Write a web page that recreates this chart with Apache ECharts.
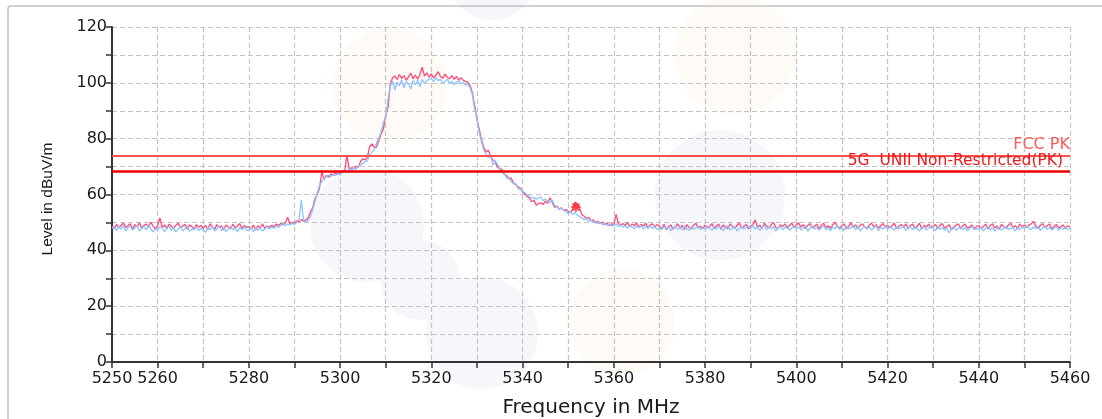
<!DOCTYPE html>
<html>
<head>
<meta charset="utf-8">
<script src="https://cdn.jsdelivr.net/npm/echarts@6/dist/echarts.min.js"></script>
<style>
html,body{margin:0;padding:0;background:#fff;}
#chart{width:1102px;height:419px;}
</style>
</head>
<body>
<div id="chart"></div>
<script>
// ---- data ----
const FREQ_START = 5250;   // MHz, first sample
const FREQ_STEP = 0.5;     // MHz between samples

// trace 1 (red/pink), dBuV/m, one value per 0.5 MHz from 5250 to 5460
const LEVEL_RED = [
  48.6,47.8,49.3,48.1,49.0,49.8,48.2,48.8,49.5,47.6,49.2,48.4,49.9,47.9,48.9,49.4,48.3,50.1,48.7,47.7,
  48.8,51.6,48.3,49.1,47.8,49.4,48.6,47.9,49.0,49.7,48.1,48.7,49.3,47.6,49.1,48.5,47.5,49.2,48.3,48.9,
  47.9,49.0,47.4,49.5,48.5,47.6,49.2,48.2,48.8,47.3,49.1,48.4,47.7,49.4,48.0,48.7,49.6,47.8,48.9,48.2,
  48.5,47.6,49.1,47.3,48.8,48.0,49.5,47.8,48.7,48.3,49.0,48.4,49.4,48.9,49.6,49.1,49.8,51.9,49.5,50.0,
  49.8,50.6,50.2,51.0,50.4,50.9,51.6,53.8,55.2,58.6,60.0,62.4,68.2,65.4,66.8,66.2,67.4,66.9,67.8,67.3,
  67.8,68.6,68.2,74.0,68.9,69.6,69.2,70.1,69.8,71.9,72.8,72.4,73.5,77.2,78.1,76.8,77.0,79.4,81.8,83.5,
  88.5,91.2,99.6,101.8,102.4,101.2,103.0,101.6,102.6,100.9,102.2,103.4,101.5,102.8,101.3,103.1,105.6,102.4,103.6,102.0,
  103.2,101.8,102.7,104.0,102.3,101.6,103.1,102.0,101.4,102.6,101.2,102.3,101.0,101.8,100.9,100.5,100.2,99.1,96.4,91.8,
  86.8,83.4,79.6,76.8,75.2,75.9,73.6,72.4,71.6,69.8,69.3,68.9,67.2,66.8,65.6,65.9,64.2,63.5,62.8,62.3,
  60.8,60.2,59.4,58.6,57.4,57.9,56.2,56.8,57.0,56.4,57.6,56.9,58.8,57.2,55.4,55.9,54.8,55.2,54.3,54.6,
  54.0,53.5,54.8,57.2,56.4,55.0,52.8,52.2,51.4,51.8,50.6,50.9,49.8,50.4,49.6,50.1,49.2,49.8,48.9,49.5,
  49.3,52.9,49.7,48.8,49.6,48.9,49.9,48.5,49.4,48.8,49.8,48.3,49.3,48.7,49.7,48.0,49.1,49.5,48.4,49.2,
  48.7,47.7,49.3,47.4,48.4,49.1,47.6,48.5,49.5,47.9,48.9,47.5,49.2,48.2,47.7,49.0,49.7,48.0,48.6,47.8,
  49.0,48.0,48.5,49.6,47.8,48.7,49.4,47.6,49.1,48.3,47.7,49.5,48.6,47.9,48.9,49.8,48.0,48.5,49.3,47.7,
  48.6,49.3,50.9,48.2,49.0,47.8,49.7,48.7,48.0,49.1,50.0,48.3,47.7,49.2,48.5,49.5,47.9,48.9,49.8,48.2,
  49.0,49.9,48.3,49.2,47.8,48.9,49.6,48.0,48.6,49.4,47.6,49.0,49.7,48.2,48.8,47.9,49.1,50.1,48.5,48.0,
  48.8,49.4,47.7,48.6,49.9,48.2,49.1,47.9,48.9,49.5,48.4,47.8,49.0,49.8,48.3,49.2,48.0,48.8,49.6,48.2,
  49.0,48.0,48.8,49.7,47.8,48.6,49.3,48.2,49.5,47.7,48.9,49.4,47.9,48.5,49.8,47.6,49.0,48.3,49.4,48.0,
  48.6,49.3,47.7,48.9,49.6,48.0,48.5,49.2,47.5,48.2,49.0,49.5,47.8,48.8,49.4,47.9,48.4,49.1,47.6,48.6,
  48.9,47.8,48.5,49.4,47.7,48.8,49.5,48.0,48.7,47.6,49.3,48.4,47.9,49.1,49.7,48.2,48.8,47.8,49.4,48.5,
  49.1,48.3,49.0,49.5,50.4,48.6,47.9,48.9,49.6,48.1,48.8,49.4,47.7,48.6,49.3,48.0,48.5,49.1,47.8,48.8,
  48.4
];

// trace 2 (light blue), dBuV/m, same frequency grid
const LEVEL_BLUE = [
  47.8,48.7,47.1,48.3,47.6,49.0,46.9,48.1,48.8,47.2,47.9,48.9,46.8,47.8,48.5,47.3,49.2,47.7,46.6,47.6,
  47.4,48.5,48.0,46.7,47.7,48.7,47.1,48.2,46.6,47.6,48.6,46.9,47.8,48.8,46.7,47.7,47.3,48.4,47.0,48.0,
  47.2,46.5,48.2,47.4,48.5,46.9,47.7,48.7,47.0,48.0,46.7,47.6,48.6,47.3,47.9,46.6,48.3,47.4,48.4,47.1,
  47.4,48.2,46.7,47.8,47.2,48.1,46.9,47.6,48.5,47.7,48.3,47.9,48.8,48.2,49.0,49.7,48.8,49.4,49.1,49.8,
  49.2,50.1,51.0,58.0,50.6,50.2,50.8,52.0,54.6,57.5,60.8,63.2,64.6,65.8,66.3,67.0,66.5,67.2,66.8,67.5,
  67.2,67.9,68.4,68.0,69.2,68.8,69.5,69.1,70.3,70.6,71.2,71.8,72.1,74.3,75.2,76.0,78.5,80.2,82.6,85.8,
  87.6,94.0,98.8,100.6,97.4,100.2,99.0,101.1,98.2,100.4,99.6,97.8,100.8,99.3,100.9,98.6,101.2,99.8,100.7,101.4,
  101.6,100.4,101.9,100.8,101.3,99.7,100.6,101.2,99.9,100.5,99.4,100.3,100.7,99.6,100.1,99.2,99.5,98.2,95.6,90.5,
  87.5,82.2,78.8,75.9,74.6,73.2,74.0,70.5,72.1,70.9,68.6,68.0,67.6,65.9,66.2,64.6,63.8,64.0,62.1,61.8,
  61.2,60.6,59.9,59.3,58.6,58.9,58.2,58.8,59.1,57.8,58.4,57.6,57.2,57.9,56.1,55.6,54.7,55.1,54.4,53.8,
  53.2,53.8,52.9,53.5,52.6,52.1,51.6,51.0,51.3,50.5,50.8,50.0,50.4,49.6,49.9,49.2,49.7,48.9,49.4,48.8,
  48.9,49.4,48.5,49.2,48.3,48.8,47.9,49.0,48.4,47.7,48.7,48.1,48.9,47.6,48.5,48.0,48.7,47.8,48.4,47.5,
  48.2,47.4,48.6,47.8,48.8,47.0,48.1,48.5,47.5,48.3,47.2,48.7,47.8,47.1,48.4,47.6,48.1,48.8,47.4,48.0,
  47.5,48.6,47.9,47.2,48.4,47.6,48.7,48.1,47.0,48.2,48.9,47.3,47.9,48.5,46.9,47.7,48.6,47.5,48.3,48.8,
  48.0,48.8,47.6,48.4,47.2,48.2,49.1,47.3,48.3,47.7,48.6,46.9,47.9,48.7,47.4,48.2,49.0,47.2,48.0,48.5,
  47.7,48.5,47.3,48.2,48.9,46.8,47.9,48.6,47.6,48.3,47.2,48.1,48.8,47.4,48.2,47.0,48.4,47.7,48.9,47.4,
  48.1,47.2,48.7,47.7,48.2,49.0,47.4,48.5,46.9,47.9,48.6,47.6,48.4,47.3,48.0,48.8,47.0,48.2,47.6,48.6,
  47.6,48.6,47.9,47.3,48.4,47.7,48.2,48.9,47.1,48.0,48.5,47.4,48.7,47.7,47.0,48.2,48.4,47.3,47.9,48.6,
  47.9,47.1,48.3,47.6,48.2,47.3,48.0,46.2,47.8,48.5,47.2,47.9,48.4,47.5,48.1,47.0,47.8,48.6,47.4,47.8,
  47.5,48.2,47.0,47.8,48.5,47.3,48.1,46.9,47.7,48.4,47.2,47.9,48.6,47.5,47.8,48.2,47.0,48.0,47.4,48.3,
  47.8,48.6,48.1,47.4,48.5,47.7,48.7,47.1,48.0,48.4,47.6,48.2,47.3,47.9,48.5,47.2,48.1,47.6,48.3,47.5,
  47.8
];

// limit lines (dBuV/m)
const LIMIT_NAMES = ['FCC PK', '5G  UNII Non-Restricted(PK)'];
const LIMIT_VALUES = [74, 68.2];

// peak marker
const MARKER_POINT = [5351.7, 55.5];

// axis ticks / labels
const X_MIN = 5250, X_MAX = 5460, X_TICK_STEP = 10;
const X_TICK_LABELS = [5250, 5260, 5280, 5300, 5320, 5340, 5360, 5380, 5400, 5420, 5440, 5460];
const Y_MIN = 0, Y_MAX = 120, Y_TICK_STEP = 10;
const Y_TICK_LABELS = [0, 20, 40, 60, 80, 100, 120];

const X_NAME = 'Frequency in MHz';
const Y_NAME = 'Level in dBuV/m';

// ---- build ----
const toPairs = arr => arr.map((v, i) => [FREQ_START + i * FREQ_STEP, v]);

const chart = echarts.init(document.getElementById('chart'), null, {renderer: 'canvas'});

const blobs = [
  {cx: 390, cy: 85, r: 57, c: '#fefaf5'},
  {cx: 735, cy: 55, r: 60, c: '#fefaf6'},
  {cx: 622, cy: 322, r: 53, c: '#fefaf5'},
  {cx: 367, cy: 225, r: 57, c: '#f6f7fa'},
  {cx: 420, cy: 280, r: 40, c: '#f6f7fa'},
  {cx: 482, cy: 333, r: 56, c: '#f6f7fa'},
  {cx: 720, cy: 195, r: 65, c: '#f6f7fa'},
  {cx: 492, cy: -25, r: 45, c: '#f6f7fa'}
];

const graphics = blobs.map(b => ({
  type: 'circle', z: -10, silent: true,
  shape: {cx: b.cx, cy: b.cy, r: b.r},
  style: {fill: b.c}
}));
graphics.push({
  type: 'rect', z: -5, silent: true,
  shape: {x: 8, y: 6, width: 1300, height: 600, r: 3},
  style: {fill: 'none', stroke: '#c2c2c2', lineWidth: 1.5}
});

const gridLine = {show: true, lineStyle: {color: '#c4c4c4', width: 1.2, type: [5, 3]}};

const option = {
  animation: false,
  backgroundColor: '#ffffff',
  graphic: graphics,
  grid: {left: 112, right: 32, top: 27, bottom: 57, containLabel: false, outerBoundsMode: 'none'},
  xAxis: {
    type: 'value', min: X_MIN, max: X_MAX, interval: X_TICK_STEP,
    name: X_NAME, nameLocation: 'middle', nameGap: 36,
    nameTextStyle: {fontFamily: 'DejaVu Sans', fontSize: 20, color: '#1a1a1a'},
    axisLine: {show: true, onZero: false, lineStyle: {color: '#333', width: 2}},
    axisTick: {show: true, length: 6, lineStyle: {color: '#333', width: 1.5}},
    axisLabel: {
      fontFamily: 'DejaVu Sans', fontSize: 16, color: '#1a1a1a', margin: 9,
      formatter: v => X_TICK_LABELS.includes(v) ? String(v) : ''
    },
    splitLine: gridLine
  },
  yAxis: {
    type: 'value', min: Y_MIN, max: Y_MAX, interval: Y_TICK_STEP,
    name: Y_NAME, nameLocation: 'middle', nameGap: 56, nameRotate: 90,
    nameTextStyle: {fontFamily: 'Liberation Sans', fontSize: 15.5, color: '#1a1a1a', padding: [0, 9, 0, 0]},
    axisLine: {show: true, lineStyle: {color: '#333', width: 2}},
    axisTick: {show: true, length: 6, lineStyle: {color: '#333', width: 1.5}},
    axisLabel: {
      fontFamily: 'DejaVu Sans', fontSize: 16, color: '#1a1a1a', margin: 5,
      formatter: v => Y_TICK_LABELS.includes(v) ? String(v) : ''
    },
    splitLine: gridLine
  },
  series: [
    {
      name: 'Trace red', type: 'line', data: toPairs(LEVEL_RED),
      showSymbol: false, symbol: 'none', z: 3,
      lineStyle: {color: '#ff4a78', width: 1.3}
    },
    {
      name: 'Trace blue', type: 'line', data: toPairs(LEVEL_BLUE),
      showSymbol: false, symbol: 'none', z: 4,
      lineStyle: {color: '#8cc4ff', width: 1.3}
    },
    {
      name: LIMIT_NAMES[0], type: 'line', data: [], z: 5,
      markLine: {
        silent: true, symbol: 'none', animation: false,
        lineStyle: {color: '#ff5050', width: 2, type: 'solid'},
        label: {
          show: true, position: 'insideEndTop', formatter: LIMIT_NAMES[0],
          fontFamily: 'DejaVu Sans', fontSize: 16, color: '#ff5a5a', distance: [0, 3]
        },
        data: [{yAxis: LIMIT_VALUES[0]}]
      }
    },
    {
      name: LIMIT_NAMES[1], type: 'line', data: [], z: 5,
      markLine: {
        silent: true, symbol: 'none', animation: false,
        lineStyle: {color: '#ee0000', width: 2.5, type: 'solid'},
        label: {
          show: true, position: 'insideEndTop', formatter: LIMIT_NAMES[1],
          fontFamily: 'DejaVu Sans', fontSize: 15.5, color: '#ee1a1a', distance: [7, 3]
        },
        data: [{yAxis: LIMIT_VALUES[1]}]
      }
    },
    {
      name: 'Marker', type: 'scatter', data: [MARKER_POINT], z: 6,
      symbol: 'path://M0,-5L0,5M-5,0L5,0M-3.5,-3.5L3.5,3.5M-3.5,3.5L3.5,-3.5',
      symbolSize: 10,
      itemStyle: {color: 'rgba(0,0,0,0)', borderColor: '#ff1010', borderWidth: 1.6}
    }
  ]
};

chart.setOption(option);
</script>
</body>
</html>
